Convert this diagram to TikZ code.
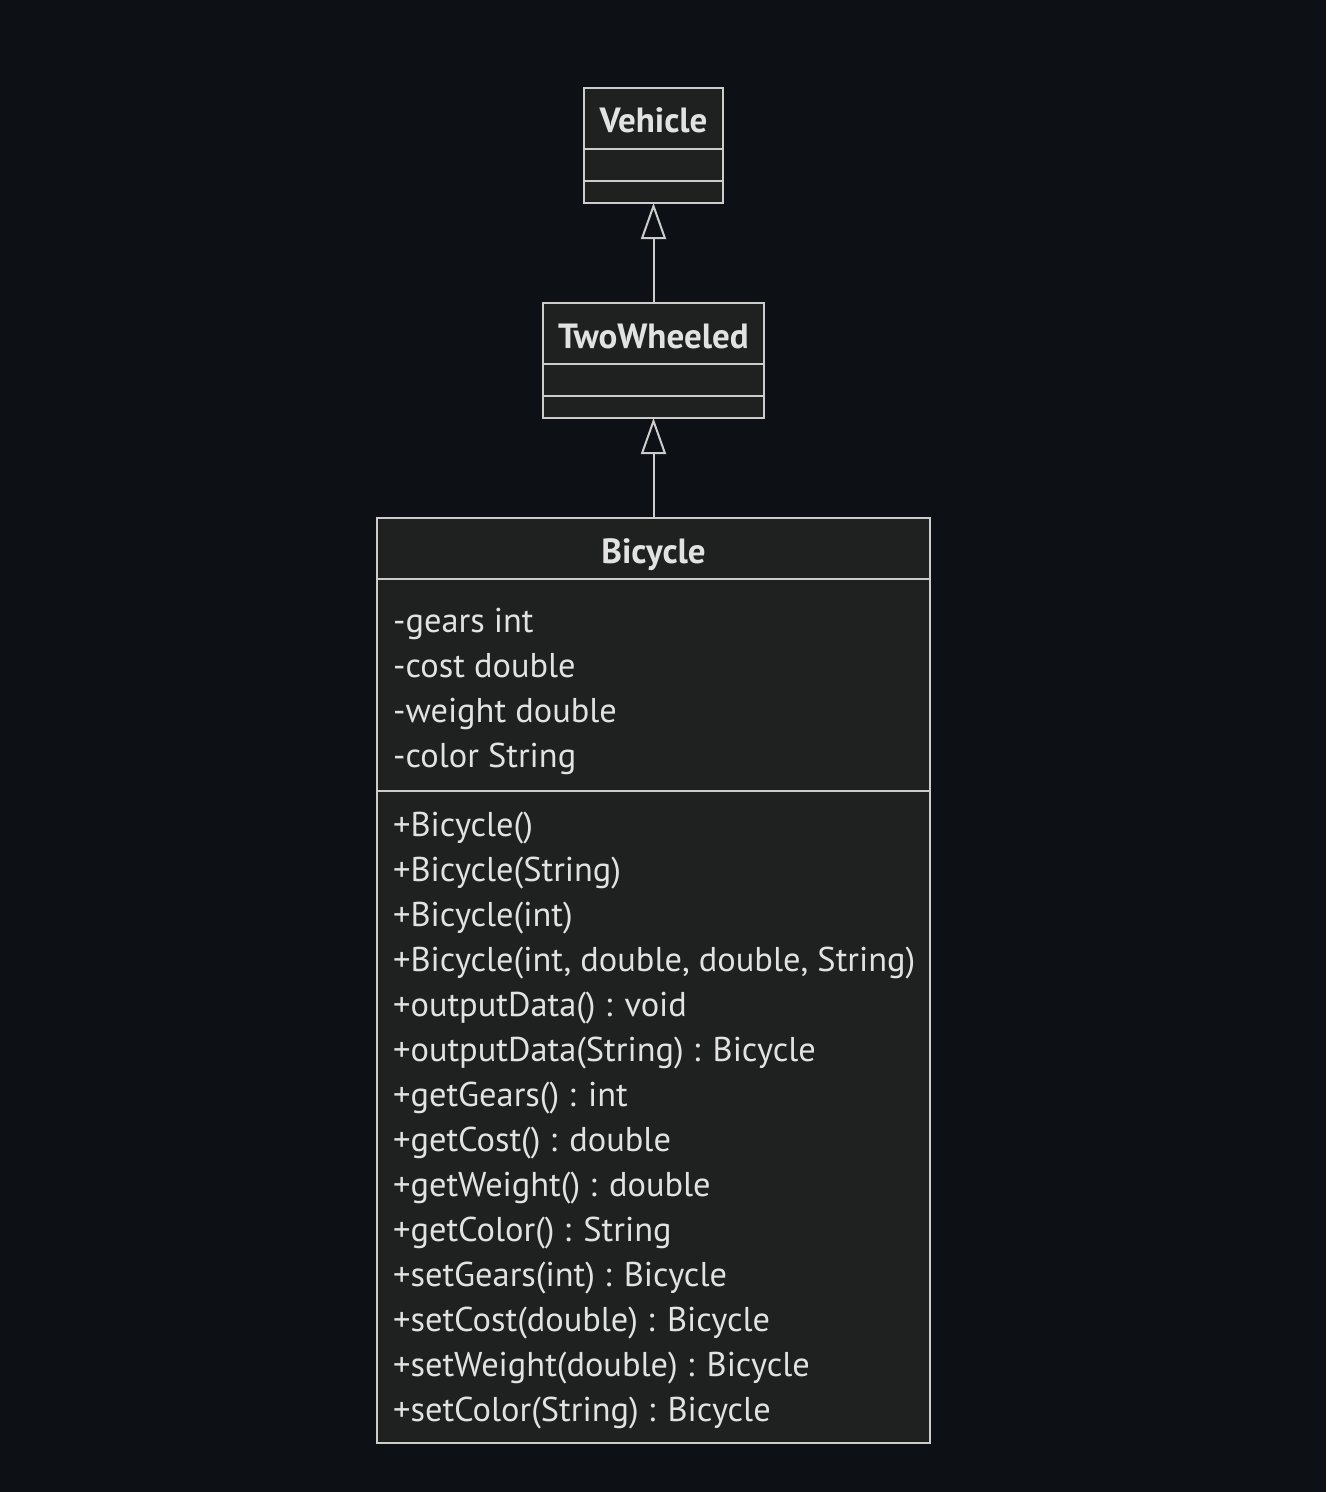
\documentclass[tikz,border=0pt]{standalone}
\usepackage{fontspec}
\setmainfont{PT Sans}
\usetikzlibrary{arrows.meta}
\definecolor{bg}{HTML}{0D1014}
\definecolor{boxfill}{HTML}{1F2020}
\definecolor{strokec}{HTML}{CCCCCC}
\definecolor{txt}{HTML}{E2E2E2}
\begin{document}
\begin{tikzpicture}[x=1pt,y=-1pt,
  umlbox/.style={draw=strokec, fill=boxfill, line width=2pt, inner sep=0pt, outer sep=0pt},
  divider/.style={draw=strokec, line width=2pt},
  titletext/.style={text=txt, font=\fontsize{35}{40}\selectfont\bfseries, anchor=base, inner sep=0pt},
  membertext/.style={text=txt, font=\fontsize{34.4}{40}\selectfont, anchor=base west, inner sep=0pt},
  inherit/.style={draw=strokec, line width=2pt, -{Triangle[open, length=36pt, width=25pt, line width=2pt]}}
]
\fill[bg] (0,0) rectangle (1326,1492);
\useasboundingbox (0,0) rectangle (1326,1492);

% Vehicle
\node[umlbox, minimum width=139pt, minimum height=115pt] (vehicle) at (653.5,145.5) {};
\node[titletext] (vehicleT) at (653.5,132) {Vehicle};
\draw[divider] (584,149) -- (723,149);
\draw[divider] (584,181) -- (723,181);

% TwoWheeled
\node[umlbox, minimum width=221pt, minimum height=115pt] (two) at (653.5,360.5) {};
\node[titletext] (twoT) at (653.5,348) {TwoWheeled};
\draw[divider] (543,364) -- (764,364);
\draw[divider] (543,396) -- (764,396);

% Bicycle
\node[umlbox, minimum width=553pt, minimum height=925pt] (bike) at (653.5,980.5) {};
\node[titletext] (bikeT) at (653.5,563) {Bicycle};
\draw[divider] (377,579) -- (930,579);
\draw[divider] (377,791) -- (930,791);

\node[membertext] (a1) at (393,632) {-gears int};
\node[membertext] (a2) at (393,677) {-cost double};
\node[membertext] (a3) at (393,722) {-weight double};
\node[membertext] (a4) at (393,767) {-color String};

\node[membertext] (m1) at (393,836) {+Bicycle()};
\node[membertext] (m2) at (393,881) {+Bicycle(String)};
\node[membertext] (m3) at (393,926) {+Bicycle(int)};
\node[membertext] (m4) at (393,971) {+Bicycle(int, double, double, String)};
\node[membertext] (m5) at (393,1016) {+outputData() : void};
\node[membertext] (m6) at (393,1061) {+outputData(String) : Bicycle};
\node[membertext] (m7) at (393,1106) {+getGears() : int};
\node[membertext] (m8) at (393,1151) {+getCost() : double};
\node[membertext] (m9) at (393,1196) {+getWeight() : double};
\node[membertext] (m10) at (393,1241) {+getColor() : String};
\node[membertext] (m11) at (393,1286) {+setGears(int) : Bicycle};
\node[membertext] (m12) at (393,1331) {+setCost(double) : Bicycle};
\node[membertext] (m13) at (393,1376) {+setWeight(double) : Bicycle};
\node[membertext] (m14) at (393,1421) {+setColor(String) : Bicycle};

% Inheritance
\draw[inherit] (two.north) -- (vehicle.south);
\draw[inherit] (bike.north) -- (two.south);
\end{tikzpicture}
\end{document}
